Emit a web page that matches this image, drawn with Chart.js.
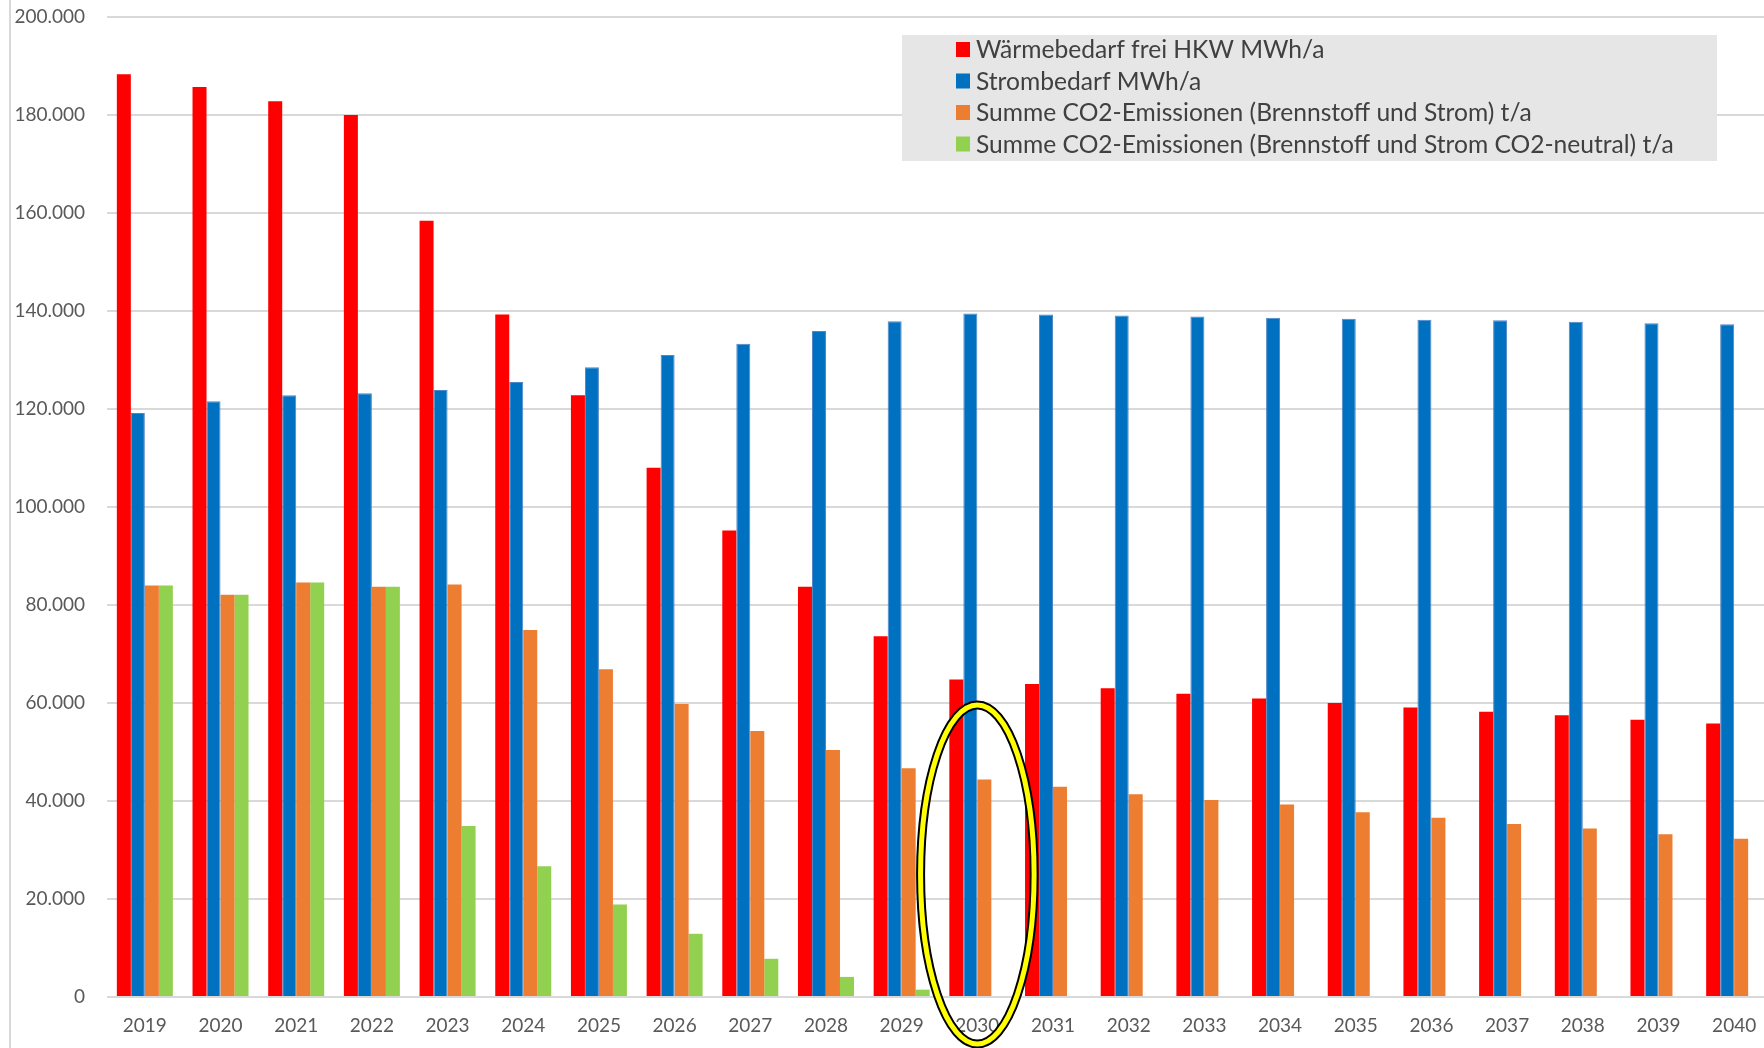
<!DOCTYPE html>
<html>
<head>
<meta charset="utf-8">
<script src="https://cdn.jsdelivr.net/npm/chart.js@4.4.1/dist/chart.umd.min.js"></script>
<style>
    html, body { margin: 0; padding: 0; background: #fff; overflow: hidden; }
    #wrap { width: 1780px; height: 1048px; }
</style>
</head>
<body>
<div id="wrap"><canvas id="chart" width="1780" height="1048"></canvas></div>
<script>
const years = ['2019','2020','2021','2022','2023','2024','2025','2026','2027','2028','2029',
               '2030','2031','2032','2033','2034','2035','2036','2037','2038','2039','2040'];

const waermebedarf = [188300, 185700, 182800, 180000, 158400, 139300, 122800, 108000, 95200, 83700, 73600,
                      64800, 63900, 63000, 61900, 60900, 60000, 59100, 58200, 57500, 56600, 55800];
const strombedarf  = [119200, 121600, 122800, 123200, 123900, 125500, 128500, 131000, 133300, 135900, 137900,
                      139500, 139300, 139100, 138900, 138600, 138400, 138200, 138100, 137800, 137500, 137300];
const co2Summe     = [84000, 82100, 84600, 83700, 84200, 74900, 66900, 59800, 54300, 50400, 46700,
                      44400, 42900, 41400, 40200, 39300, 37700, 36600, 35300, 34400, 33200, 32300];
const co2Neutral   = [84000, 82100, 84600, 83700, 34900, 26700, 18900, 12900, 7800, 4100, 1500,
                      0, 0, 0, 0, 0, 0, 0, 0, 0, 0, 0];

const seriesLabels = [
    'Wärmebedarf frei HKW MWh/a',
    'Strombedarf MWh/a',
    'Summe CO2-Emissionen (Brennstoff und Strom) t/a',
    'Summe CO2-Emissionen (Brennstoff und Strom CO2-neutral) t/a',
];
const seriesColors = ['#ff0000', '#0070c0', '#ed7d31', '#92d050'];

// highlighted year (ellipse), given in data units
const markYear    = '2030';
const markHalfW   = 0.75;      // in categories
const markYTop    = 59600;
const markYBottom = -9600;

const fmtNum = v => String(v).replace(/\B(?=(\d{3})+(?!\d))/g, '.');

const frameLine = {
    id: 'frameLine',
    beforeDraw(chart) {
        const ctx = chart.ctx;
        ctx.save();
        ctx.fillStyle = '#d9d9d9';
        ctx.fillRect(9, 0, 2, chart.height);
        ctx.restore();
    },
};

const boxLegend = {
    id: 'boxLegend',
    afterDatasetsDraw(chart) {
        const ctx = chart.ctx;
        ctx.save();
        ctx.fillStyle = '#e6e6e6';
        ctx.fillRect(902, 35, 815, 126);
        ctx.font = '24.6px Lato';
        ctx.textBaseline = 'middle';
        chart.data.datasets.forEach((ds, i) => {
            const y = 49.5 + i * 31.5;
            ctx.fillStyle = ds.backgroundColor;
            ctx.fillRect(956, y - 7.5, 14, 15);
            ctx.fillStyle = '#404040';
            ctx.fillText(ds.label, 976, y + 1);
        });
        ctx.restore();
    },
};

const markEllipse = {
    id: 'markEllipse',
    afterDraw(chart) {
        const x = chart.scales.x, y = chart.scales.y;
        const idx  = years.indexOf(markYear);
        const cx   = x.getPixelForValue(idx);
        const rx   = (x.getPixelForValue(idx + 1) - cx) * markHalfW;
        const yTop = y.getPixelForValue(markYTop);
        const yBot = y.getPixelForValue(markYBottom);
        const ctx  = chart.ctx;
        ctx.save();
        ctx.beginPath();
        ctx.ellipse(cx, (yTop + yBot) / 2, rx, (yBot - yTop) / 2, 0, 0, Math.PI * 2);
        ctx.strokeStyle = '#000';
        ctx.lineWidth = 9;
        ctx.stroke();
        ctx.strokeStyle = '#ffff00';
        ctx.lineWidth = 5;
        ctx.stroke();
        ctx.restore();
    },
};

const seriesData = [waermebedarf, strombedarf, co2Summe, co2Neutral];

new Chart(document.getElementById('chart'), {
    type: 'bar',
    data: {
        labels: years,
        datasets: seriesData.map((d, i) => ({
            label: seriesLabels[i],
            data: d,
            backgroundColor: seriesColors[i],
            borderColor: i === 1 ? '#4f86c6' : seriesColors[i],
            borderWidth: i === 1 ? 1 : 0,
            categoryPercentage: 0.74,
            barPercentage: 1.0,
        })),
    },
    options: {
        responsive: false,
        animation: false,
        layout: { padding: { top: 17, right: 8, left: 0, bottom: 0 } },
        plugins: {
            legend: { display: false },
            tooltip: { enabled: false },
        },
        scales: {
            x: {
                grid: { display: false },
                border: { display: false },
                ticks: { color: '#595959', font: { family: 'Lato', size: 19 }, padding: 9, maxRotation: 0 },
                afterFit: s => { s.height = 51; },
            },
            y: {
                min: 0,
                max: 200000,
                ticks: {
                    stepSize: 20000,
                    color: '#595959',
                    font: { family: 'Lato', size: 19 },
                    padding: 22,
                    callback: v => fmtNum(v),
                },
                grid: { color: '#d9d9d9', lineWidth: 2, drawTicks: false },
                border: { display: false },
                afterFit: s => { s.width = 107; s.paddingTop = 0; s.paddingBottom = 0; },
            },
        },
    },
    plugins: [frameLine, boxLegend, markEllipse],
});
</script>
</body>
</html>
